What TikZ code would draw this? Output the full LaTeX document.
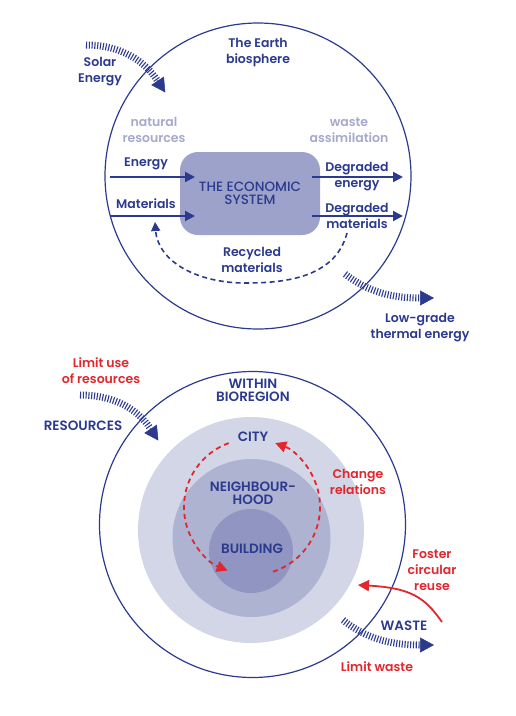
\documentclass[tikz,border=0pt]{standalone}
\usepackage{fontspec}
\setmainfont{Poppins}[UprightFont={* Medium}, BoldFont={* SemiBold}]
\usetikzlibrary{arrows.meta}
\definecolor{navy}{HTML}{2C3A8E}
\definecolor{lav}{HTML}{A4A9CD}
\definecolor{boxfill}{HTML}{9DA2CA}
\definecolor{ringA}{HTML}{D3D6E7}
\definecolor{ringB}{HTML}{AEB3D2}
\definecolor{ringC}{HTML}{9096C1}
\definecolor{redc}{HTML}{E1262E}
\newcommand\mixfont{\fontsize{12.5}{16}\selectfont\bfseries}
\newcommand\capfont{\fontsize{13.5}{13}\selectfont\bfseries}
\newcommand\boxfont{\fontsize{13.5}{13}\selectfont}
\tikzset{
  lbl/.style={font=\mixfont, text=navy, align=center, inner sep=0pt},
  caplbl/.style={font=\capfont, text=navy, align=center, inner sep=0pt},
  greylbl/.style={lbl, text=lav},
  redlbl/.style={lbl, text=redc},
  ring/.style={circle, draw=navy, line width=1.2pt, inner sep=0pt},
  disc/.style={circle, inner sep=0pt},
  flow/.style={navy, line width=2pt, -{Triangle[length=10pt,width=10pt]}},
  recyc/.style={navy, line width=1.6pt, dash pattern=on 5pt off 3.5pt, -{Triangle[length=9pt,width=9pt]}},
  reddash/.style={redc, line width=1.8pt, dash pattern=on 5pt off 4pt, -{Triangle[length=11pt,width=11pt]}},
  redflow/.style={redc, line width=1.8pt, -{Triangle[length=11pt,width=11pt]}},
  hatch/.style={navy, line width=7pt, dash pattern=on 1.1pt off 1.7pt},
  hathead/.style={navy, line width=0.5pt, -{Triangle[length=14pt,width=15pt]}},
}
\begin{document}
\begin{tikzpicture}[x=1pt,y=-1pt]
\useasboundingbox (0,0) rectangle (516,716);
% ---------------- top diagram ----------------
\node[ring, minimum size=306pt] (earth) at (258,176) {};
\node[lbl] (bio) at (258,53) {The Earth\\biosphere};
\node[lbl] (solar) at (100,72) {Solar\\Energy};
\node[greylbl] (natres) at (154,130) {natural\\resources};
\node[greylbl] (wasteas) at (349,130) {waste\\assimilation};
\node[caplbl, font=\boxfont, fill=boxfill, rounded corners=18pt, minimum width=140pt, minimum height=83pt] (econ) at (250,193.5) {THE ECONOMIC\\SYSTEM};
\node[lbl] (energy) at (146,164) {Energy};
\node[lbl] (materials) at (146,204) {Materials};
\node[lbl] (degen) at (357,177) {Degraded\\energy};
\node[lbl] (degmat) at (357,216) {Degraded\\materials};
\node[lbl] (recyc) at (252,260) {Recycled\\materials};
\node[lbl] (lowgrade) at (420,328) {Low-grade\\thermal energy};

\coordinate (ein) at (110,177);
\coordinate (eend) at (195,177);
\coordinate (min) at (110,216);
\coordinate (mend) at (195,216);
\coordinate (dein) at (312,177);
\coordinate (deout) at (403,177);
\coordinate (dmin) at (312,216);
\coordinate (dmout) at (403,216);
\draw[flow] (ein) -- (eend);
\draw[flow] (min) -- (mend);
\draw[flow] (dein) -- (deout);
\draw[flow] (dmin) -- (dmout);

\coordinate (rs) at (347,233);
\coordinate (rm) at (245,283);
\coordinate (re) at (155,222);
\draw[recyc] (rs) .. controls (335,279) and (282,283) .. (rm) .. controls (198,283) and (158,262) .. (re);

% solar hatch
\coordinate (so1) at (86,45);
\coordinate (so2) at (157,80);
\coordinate (so3) at (165.3,92.5);
\draw[hatch] (so1) .. controls (122,45) and (145,62) .. (so2);
\draw[hathead] (so2) -- (so3);
% low grade hatch
\coordinate (lg1) at (345,274);
\coordinate (lg2) at (420,298);
\coordinate (lg3) at (434,298);
\draw[hatch] (lg1) .. controls (368,292) and (392,298) .. (lg2);
\draw[hathead] (lg2) -- (lg3);

% ---------------- bottom diagram ----------------
\node[ring, minimum size=306pt] (bioreg) at (252.5,524.5) {};
\node[disc, fill=ringA, minimum size=226pt] (city) at (251,530) {};
\node[disc, fill=ringB, minimum size=158pt] (nbh) at (251.5,538) {};
\node[disc, fill=ringC, minimum size=84pt] (bld) at (251,551) {};

\node[caplbl] (within) at (253,390) {WITHIN\\BIOREGION};
\node[caplbl] (citylbl) at (253,437) {CITY};
\node[caplbl] (nbhlbl) at (253,493) {NEIGHBOUR-\\HOOD};
\node[caplbl] (bldlbl) at (252,549) {BUILDING};
\node[redlbl] (limituse) at (101,371) {Limit use\\of resources};
\node[caplbl] (resources) at (83,426) {RESOURCES};
\node[redlbl] (change) at (358,482) {Change\\relations};
\node[redlbl] (foster) at (432,570) {Foster\\circular\\reuse};
\node[caplbl] (waste) at (404,626) {WASTE};
\node[redlbl] (limitwaste) at (377,667) {Limit waste};

% red dashed loop
\coordinate (lc) at (252,507);
\draw[reddash] (lc) ++(250:68) arc[start angle=250, end angle=111, radius=68];
\draw[reddash] (lc) ++(72:68) arc[start angle=72, end angle=-70, radius=68];

% foster arrow
\coordinate (fs) at (442,622);
\coordinate (fe) at (358,585);
\draw[redflow] (fs) .. controls (425,598) and (412,588) .. (fe);

% resources hatch
\coordinate (rr1) at (80,395);
\coordinate (rr2) at (150,428);
\coordinate (rr3) at (158.3,440.5);
\draw[hatch] (rr1) .. controls (115,395) and (138,410) .. (rr2);
\draw[hathead] (rr2) -- (rr3);
% waste hatch
\coordinate (w1) at (343,620);
\coordinate (w2) at (420,645);
\coordinate (w3) at (434,645);
\draw[hatch] (w1) .. controls (365,638) and (390,645) .. (w2);
\draw[hathead] (w2) -- (w3);
\end{tikzpicture}
\end{document}
